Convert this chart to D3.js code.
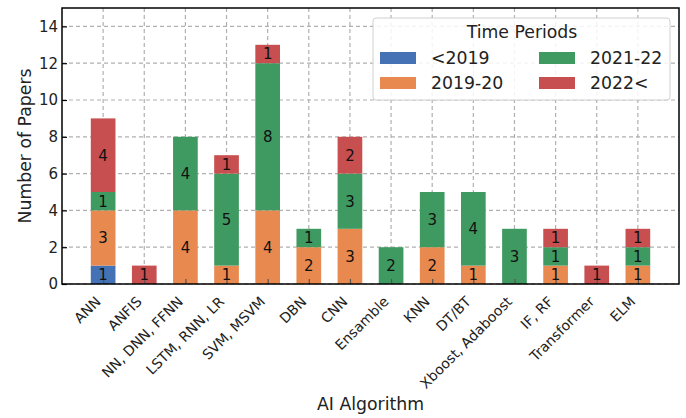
<!DOCTYPE html>
<html><head><meta charset="utf-8">
<script src="https://cdn.jsdelivr.net/npm/d3@7"></script>
<style>body{margin:0;background:#fff;}text{font-family:"DejaVu Sans",sans-serif;}</style>
</head><body><svg id="c" width="686" height="418"></svg>
<script>
const categories = ["ANN","ANFIS","NN, DNN, FFNN","LSTM, RNN, LR","SVM, MSVM","DBN","CNN","Ensamble","KNN","DT/BT","Xboost, Adaboost","IF, RF","Transformer","ELM"];
const seriesNames = ["<2019","2019-20","2021-22","2022<"];
const before2019 = [1,0,0,0,0,0,0,0,0,0,0,0,0,0];
const p2019_20   = [3,0,4,1,4,2,3,0,2,1,0,1,0,1];
const p2021_22   = [1,0,4,5,8,1,3,2,3,4,3,1,0,1];
const after2022  = [4,1,0,1,1,0,2,0,0,0,0,1,1,1];
const yTicks = [0,2,4,6,8,10,12,14];
const colors = ["#4472b4","#e8894f","#3f9a62","#c84f4f"];

const svg = d3.select("#c");
const L=62, R=679, T=8, B=284;
const x = d3.scaleLinear().domain([-1,14]).range([L,R]);
const y = d3.scaleLinear().domain([0,15]).range([B,T]);
const bw = (x(0.6)-x(0));

const data = categories.map((c,i)=>({cat:c,i, "<2019":before2019[i],"2019-20":p2019_20[i],"2021-22":p2021_22[i],"2022<":after2022[i]}));
const stack = d3.stack().keys(seriesNames)(data);

// grid
const g = svg.append("g");
g.selectAll(".gy").data(yTicks).join("line").attr("x1",L).attr("x2",R).attr("y1",d=>y(d)).attr("y2",d=>y(d))
 .attr("stroke","#b0b0b0").attr("stroke-dasharray","4,3").attr("stroke-width",1.2);
g.selectAll(".gx").data(categories).join("line").attr("x1",(d,i)=>x(i)).attr("x2",(d,i)=>x(i)).attr("y1",T).attr("y2",B)
 .attr("stroke","#b0b0b0").attr("stroke-dasharray","4,3").attr("stroke-width",1.2);

// bars
stack.forEach((s,si)=>{
  svg.append("g").selectAll("rect").data(s.filter(d=>d[1]-d[0]>0)).join("rect")
   .attr("x",d=>x(d.data.i)-bw/2).attr("width",bw)
   .attr("y",d=>y(d[1])).attr("height",d=>y(d[0])-y(d[1]))
   .attr("fill",colors[si]);
});

// axes
const yAxis = d3.axisLeft(y).tickValues(yTicks).tickSizeInner(-5).tickSizeOuter(0).tickPadding(4);
const ya = svg.append("g").attr("transform",`translate(${L},0)`).call(yAxis);
ya.selectAll("text").attr("font-size",15).attr("fill","#222");
ya.select(".domain").remove();
ya.selectAll("line").attr("stroke","#000").attr("stroke-width",1.2);

const xAxis = d3.axisBottom(x).tickValues(d3.range(categories.length)).tickFormat(i=>categories[i]).tickSizeInner(-5).tickSizeOuter(0).tickPadding(0);
const xa = svg.append("g").attr("transform",`translate(0,${B})`).call(xAxis);
xa.select(".domain").remove();
xa.selectAll("line").attr("stroke","#555").attr("stroke-width",1.2);
xa.selectAll("text").attr("font-size",14).attr("fill","#222")
  .attr("text-anchor","end").attr("y",0).attr("dy",0)
  .attr("transform","translate(-2,18.5) rotate(-45)");

// segment labels
stack.forEach((s,si)=>{
  svg.append("g").selectAll("text").data(s.filter(d=>d[1]-d[0]>0)).join("text")
   .attr("x",d=>x(d.data.i)).attr("y",d=>y((d[0]+d[1])/2)).attr("dy","0.36em")
   .attr("text-anchor","middle").attr("font-size",15).attr("fill","#111")
   .text(d=>d[1]-d[0]);
});

svg.append("rect").attr("x",L).attr("y",T).attr("width",R-L).attr("height",B-T)
 .attr("fill","none").attr("stroke","#000").attr("stroke-width",1.5);

svg.append("text").attr("x",(L+R)/2).attr("y",410).attr("text-anchor","middle").attr("font-size",17.3).attr("fill","#222").text("AI Algorithm");
svg.append("text").attr("transform",`translate(31,${(T+B)/2}) rotate(-90)`).attr("text-anchor","middle").attr("font-size",17.3).attr("fill","#222").text("Number of Papers");

// legend
const lg = svg.append("g");
lg.append("rect").attr("x",373).attr("y",18).attr("width",297).attr("height",82).attr("rx",3)
 .attr("fill","#fff").attr("fill-opacity",0.85).attr("stroke","#d0d0d0");
lg.append("text").attr("x",522).attr("y",38).attr("text-anchor","middle").attr("font-size",17.3).attr("fill","#222").text("Time Periods");
const pos = [[380,58],[380,83],[539,58],[539,83]];
seriesNames.forEach((n,i)=>{
  lg.append("rect").attr("x",pos[i][0]).attr("y",pos[i][1]-6).attr("width",36).attr("height",12).attr("fill",colors[i]);
  lg.append("text").attr("x",pos[i][0]+51).attr("y",pos[i][1]).attr("dy","0.36em").attr("font-size",17.3).attr("fill","#222").text(n);
});
</script></body></html>
